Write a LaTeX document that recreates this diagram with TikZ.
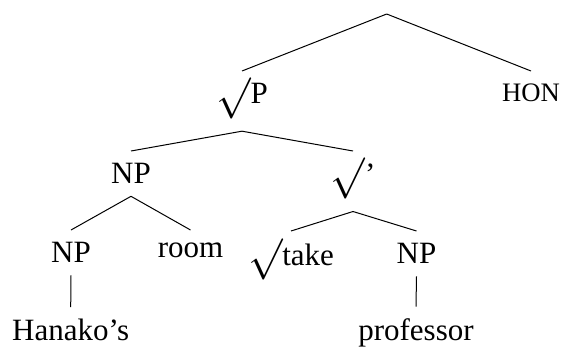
\documentclass[tikz,border=0pt]{standalone}
\usepackage{fontspec}
\usepackage{graphicx}
\setmainfont{Liberation Serif}
\newcommand{\rootsign}{\raisebox{-0.48em}[0.6em][0.48em]{\resizebox*{!}{1.33em}{\raisebox{\depth}{$\surd$}}}}
\tikzset{every picture/.style={line width=0.75pt}}
\tikzset{lab/.style={anchor=north, inner xsep=0pt, inner ysep=9pt, font=\fontsize{23.25}{28}\selectfont},
  leaf/.style={lab, inner ysep=0pt, outer ysep=9pt}}
\begin{document}
\begin{tikzpicture}[x=0.75pt,y=0.75pt,yscale=-1,xscale=1]
\useasboundingbox (0,0) rectangle (564,347);

% Text Node
\coordinate (root) at (386.7,14);
% Text Node
\node [lab] (rtP) at (242,71) {\rootsign P};
% Text Node
\node [lab, font=\fontsize{20}{24}\selectfont] (hon) at (531,71) {HON};
% Text Node
\node [lab] (np) at (131,151) {NP};
% Text Node
\node [lab] (rtbar) at (353,151) {\rootsign’};
% Text Node
\node [lab] (npposs) at (71,230) {NP};
% Text Node
\node [lab] (room) at (190.5,230) {room};
% Text Node
\node [lab] (take) at (291,231) {\rootsign take};
% Text Node
\node [lab] (npobj) at (416.5,231) {NP};
% Text Node
\node [leaf] (hanako) at (70.7,307) {Hanako’s};
% Text Node
\node [leaf] (prof) at (416,306.5) {professor};

%Straight Lines
\draw (root) -- (rtP.north);
\draw (root) -- (hon.north);
%Straight Lines
\draw (rtP.south) -- (np.north);
\draw (rtP.south) -- (rtbar.north);
%Straight Lines
\draw (np.south) -- (npposs.north);
\draw (np.south) -- (room.north);
%Straight Lines
\draw (rtbar.south) -- (take.north);
\draw (rtbar.south) -- (npobj.north);
%Straight Lines
\draw (npposs.south) -- (hanako.north);
\draw (npobj.south) -- (prof.north);

\end{tikzpicture}
\end{document}
